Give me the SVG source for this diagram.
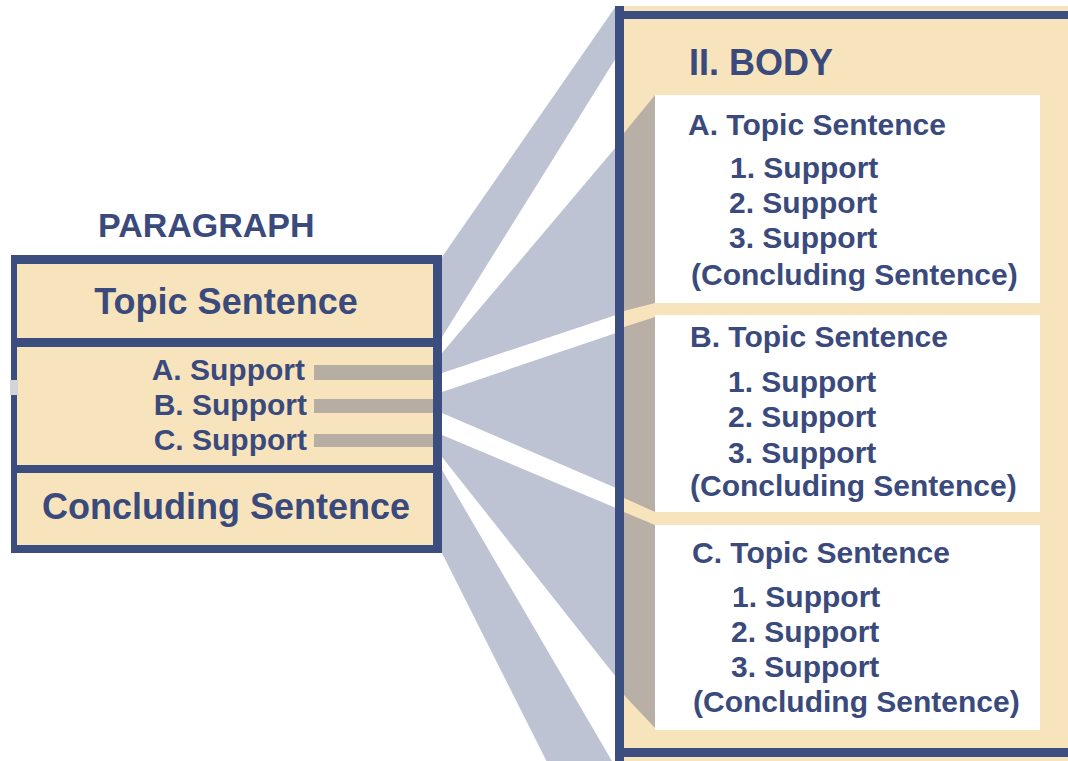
<svg xmlns="http://www.w3.org/2000/svg" width="1068" height="761" viewBox="0 0 1068 761">
<style>
.t{font-family:"Liberation Sans",Arial,sans-serif;font-weight:bold;fill:#3A4A7C}
.big{font-size:36px}
.mid{font-size:30px}
.fan{fill:#BEC3D4}
.border{fill:#3C4D80}
.beige{fill:#F8E4BC}
.shadow{fill:#B8B0A6}
.bar{fill:#B6ADA3}
.white{fill:#FFFFFF}
</style>
<rect x="0" y="0" width="1068" height="761" fill="#FFFFFF"/>
<g id="connectors">
<polygon class="fan" points="442,257 616,6 616,58 442,337"/>
<polygon class="fan" points="442,353 616,147 616,315 442,373"/>
<polygon class="fan" points="442,392 616,333 616,488 442,413"/>
<polygon class="fan" points="442,435 616,508 616,677 442,457"/>
<polygon class="fan" points="442,470 616,768 551,770 442,553"/>
</g>
<g id="paragraph">
<text class="t" x="98" y="237" font-size="34">PARAGRAPH</text>
<rect class="border" x="11" y="255" width="431" height="298"/>
<rect class="beige" x="17" y="264" width="416" height="74"/>
<rect class="beige" x="17" y="347" width="416" height="118"/>
<rect class="beige" x="17" y="473" width="416" height="72"/>
<rect x="10" y="380" width="8" height="15" fill="#D4D4D6"/>
<text class="t big" x="226" y="314" text-anchor="middle">Topic Sentence</text>
<rect class="bar" x="314" y="365" width="119" height="15"/>
<rect class="bar" x="314" y="399" width="119" height="14"/>
<rect class="bar" x="314" y="434" width="119" height="13"/>
<text class="t mid" x="305" y="380" text-anchor="end">A. Support</text>
<text class="t mid" x="307" y="415" text-anchor="end">B. Support</text>
<text class="t mid" x="307" y="450" text-anchor="end">C. Support</text>
<text class="t big" x="226" y="519" text-anchor="middle">Concluding Sentence</text>
</g>
<g id="body">
<rect class="beige" x="615" y="6" width="453" height="755"/>
<rect class="border" x="615" y="6" width="9" height="755"/>
<rect class="border" x="615" y="11" width="453" height="8"/>
<rect class="border" x="615" y="748" width="453" height="9"/>
<text class="t big" x="689" y="75">II. BODY</text>
</g>
<g id="section-a">
<polygon class="shadow" points="655,95 655,303 624,311 624,133"/>
<rect class="white" x="655" y="95" width="385" height="208"/>
<text class="t mid" x="688" y="135">A. Topic Sentence</text>
<text class="t mid" x="730" y="178">1. Support</text>
<text class="t mid" x="729" y="213">2. Support</text>
<text class="t mid" x="729" y="248">3. Support</text>
<text class="t mid" x="691" y="285">(Concluding Sentence)</text>
</g>
<g id="section-b">
<polygon class="shadow" points="655,317 655,512 624,498 624,327"/>
<rect class="white" x="655" y="315" width="385" height="197"/>
<text class="t mid" x="690" y="347">B. Topic Sentence</text>
<text class="t mid" x="728" y="392">1. Support</text>
<text class="t mid" x="728" y="427">2. Support</text>
<text class="t mid" x="728" y="463">3. Support</text>
<text class="t mid" x="690" y="496">(Concluding Sentence)</text>
</g>
<g id="section-c">
<polygon class="shadow" points="655,525 655,728 624,695 624,512"/>
<rect class="white" x="655" y="525" width="385" height="205"/>
<text class="t mid" x="692" y="563">C. Topic Sentence</text>
<text class="t mid" x="732" y="607">1. Support</text>
<text class="t mid" x="731" y="642">2. Support</text>
<text class="t mid" x="731" y="677">3. Support</text>
<text class="t mid" x="693" y="712">(Concluding Sentence)</text>
</g>
</svg>
